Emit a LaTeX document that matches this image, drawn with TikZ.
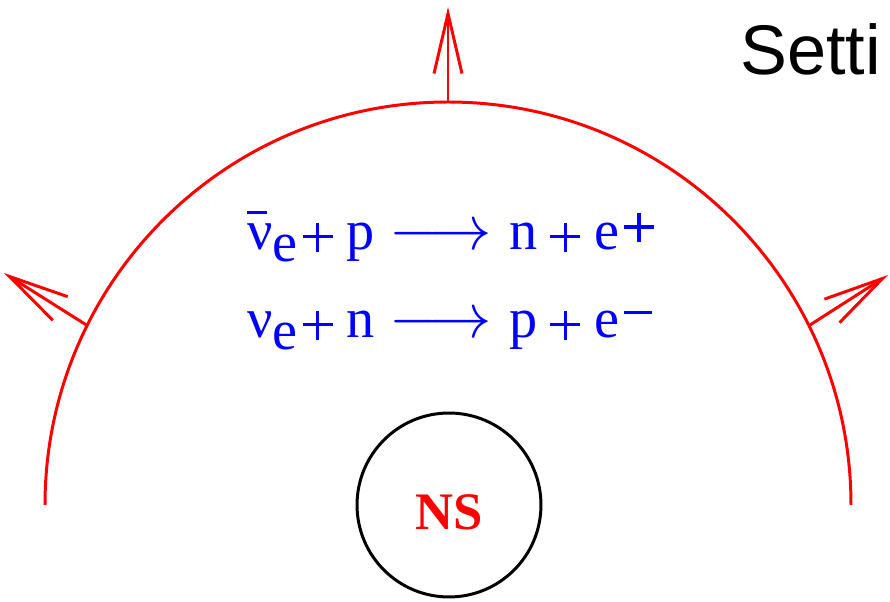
\documentclass[tikz,border=0pt]{standalone}
\usepackage{amsmath}
\usepackage{graphicx}
\usepackage{fontspec}
\setmainfont{Liberation Serif}
\newfontfamily\helvfont{Liberation Sans}
\usetikzlibrary{arrows.meta}
\newcommand{\subE}{\raisebox{-0.24cm}{e}}
\newcommand{\barNu}{\rlap{\raisebox{0.72cm}{\rule{0.4cm}{0.06cm}}}ν}
\newcommand{\rplus}{\makebox[0.6cm][l]{\rule[0.23cm]{0.6cm}{0.065cm}\hspace{-0.33cm}\rule[-0.04cm]{0.065cm}{0.58cm}}}
\newcommand{\rminus}{\rule[0.48cm]{0.56cm}{0.065cm}}
\newcommand{\yields}{\scalebox{1.45}{$\longrightarrow$}}

\begin{document}
\begin{tikzpicture}[x=0.02cm,y=0.02cm,
   shell/.style={draw=red,line width=1.7pt},
   outflow/.style={shell,-{Straight Barb[length=1.2cm,width=0.56cm]}},
   reaction/.style={text=blue,font=\fontsize{32}{38}\selectfont,
                    anchor=base west,inner sep=0pt}]
  \useasboundingbox (0,0) rectangle (890,602);
  \coordinate (c) at (448,97);
  % neutrino sphere
  \draw[shell] (c) ++(180:403) arc (180:0:403);
  \coordinate (top)   at (448,500);
  \coordinate (topT)  at (448,595);
  \coordinate (left)  at (88,276);
  \coordinate (leftT) at (4,329);
  \coordinate (right) at (810,277);
  \coordinate (rightT) at (888,327);
  \draw[outflow] (top) -- (topT);
  \draw[outflow] (left) -- (leftT);
  \draw[outflow] (right) -- (rightT);
  % reactions
  \node[reaction] (capture) at (247,352)
       {\barNu\subE\hspace{0.1cm}\rplus\hspace{0.28cm}p\hspace{0.3cm}\yields\hspace{0.35cm}n\hspace{0.25cm}\rplus\hspace{0.28cm}e\hspace{0.1cm}\raisebox{0.2cm}{\rplus}};
  \node[reaction] (absorb) at (247,264)
       {ν\subE\hspace{0.1cm}\rplus\hspace{0.28cm}n\hspace{0.3cm}\yields\hspace{0.35cm}p\hspace{0.25cm}\rplus\hspace{0.28cm}e\hspace{0.1cm}\rminus};
  % neutron star
  \node[draw,circle,line width=1.7pt,minimum size=3.68cm,inner sep=0pt,
        text=red,font=\bfseries\fontsize{30}{36}\selectfont,text height=1cm,text depth=0pt]
       (ns) at (449,97) {NS};
  \node[anchor=base west,inner sep=0pt,font=\helvfont\fontsize{40}{48}\selectfont]
       (title) at (740,527) {Setti};
\end{tikzpicture}
\end{document}
